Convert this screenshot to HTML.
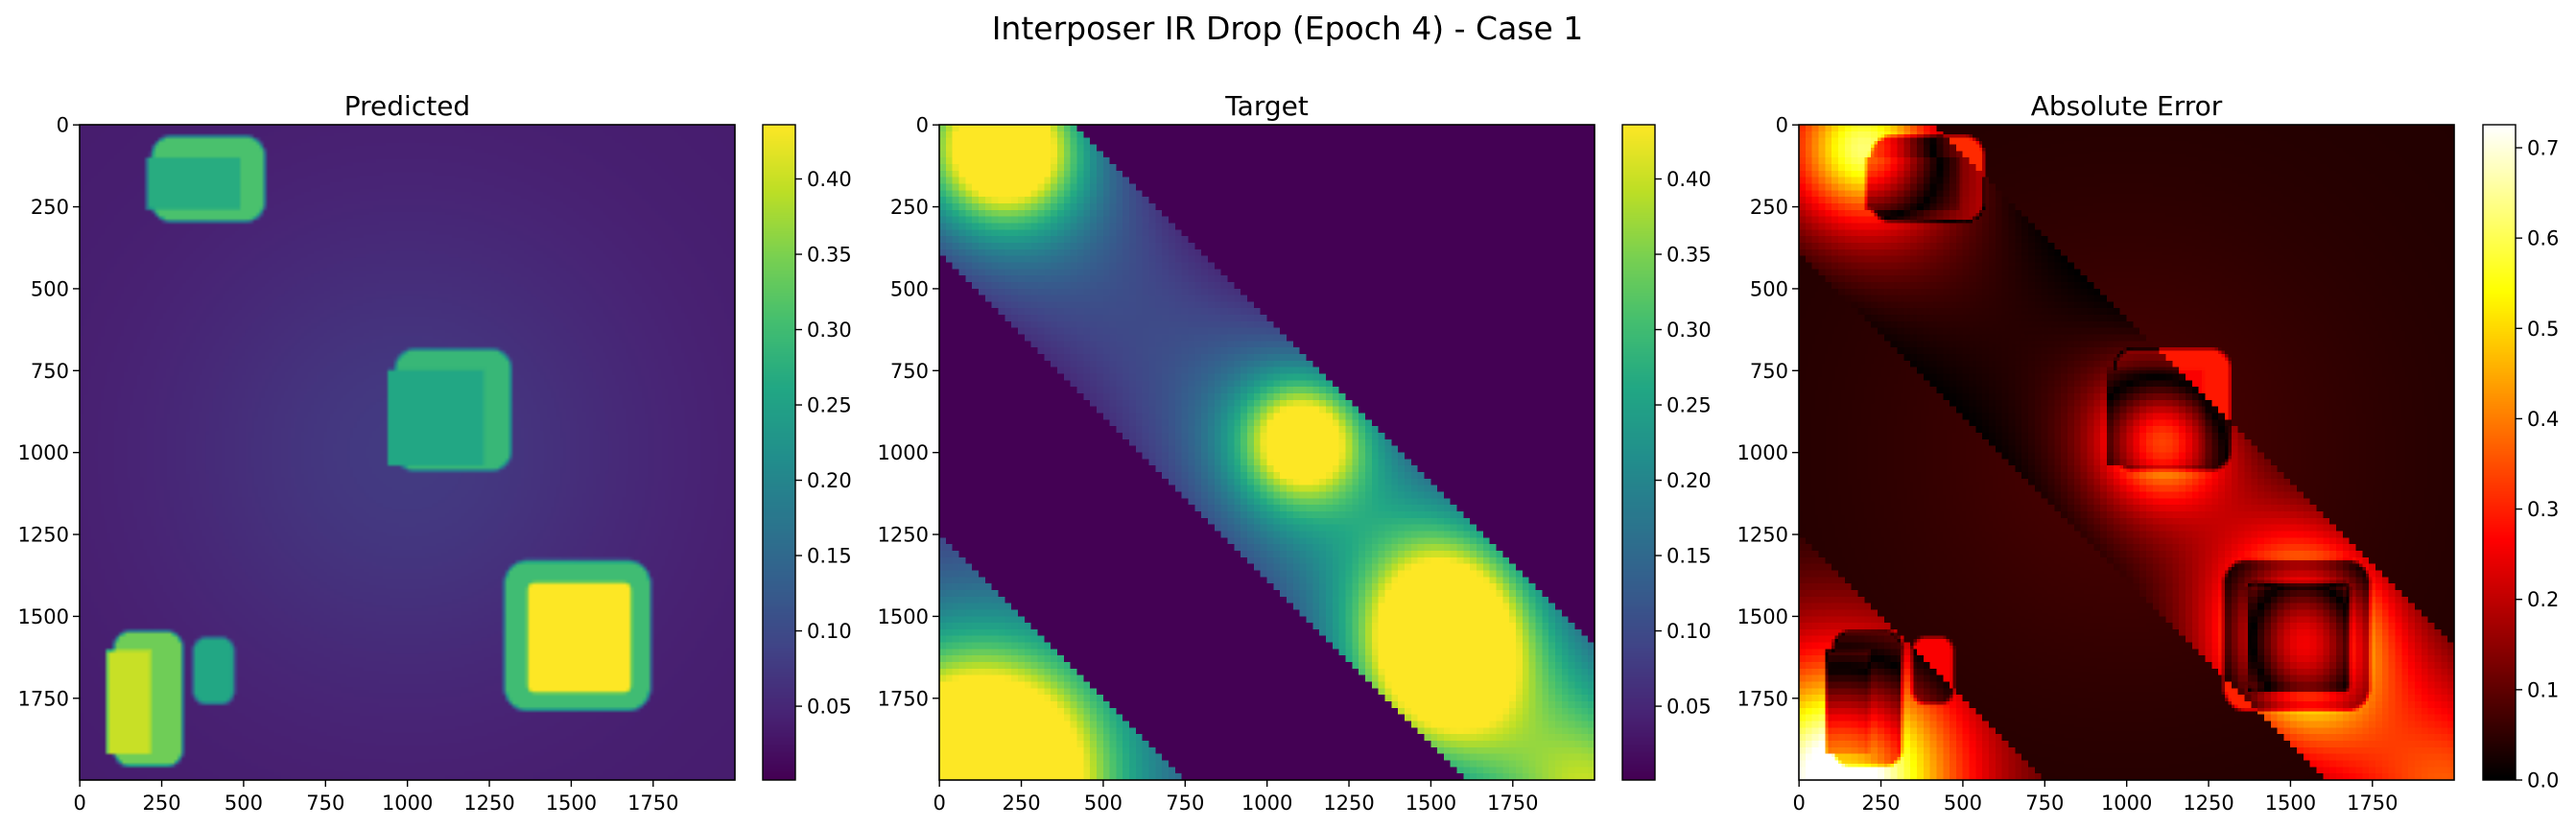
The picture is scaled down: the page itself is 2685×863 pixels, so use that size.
<!DOCTYPE html>
<html><head><meta charset="utf-8"><style>
html,body{margin:0;padding:0;background:#fff;}
#root{position:relative;width:2685px;height:863px;overflow:hidden;font-family:"DejaVu Sans","Liberation Sans",sans-serif;color:#000;}
canvas{position:absolute;image-rendering:pixelated;}
svg{position:absolute;left:0;top:0;}
</style></head><body>
<div id="root">
<canvas id="c0" width="200" height="200" style="left:83px;top:130px;width:683px;height:683px;image-rendering:auto"></canvas>
<canvas id="c1" width="200" height="200" style="left:979px;top:130px;width:683px;height:683px"></canvas>
<canvas id="c2" width="200" height="200" style="left:1875px;top:130px;width:683px;height:683px"></canvas>
<canvas id="cb0" width="1" height="256" style="left:795px;top:130px;width:34px;height:683px;image-rendering:auto"></canvas>
<canvas id="cb1" width="1" height="256" style="left:1691px;top:130px;width:34px;height:683px;image-rendering:auto"></canvas>
<canvas id="cb2" width="1" height="256" style="left:2588px;top:130px;width:34px;height:683px;image-rendering:auto"></canvas>
<svg id="ax" width="2685" height="863">
<text x="1342" y="41" font-size="33" text-anchor="middle">Interposer IR Drop (Epoch 4) - Case 1</text>
</svg>
</div>
<script>
// ---- data ----
const ticks = [0, 250, 500, 750, 1000, 1250, 1500, 1750];
const viridisTicks = [0.05, 0.10, 0.15, 0.20, 0.25, 0.30, 0.35, 0.40];
const errorTicks = [0.0, 0.1, 0.2, 0.3, 0.4, 0.5, 0.6, 0.7];
const vRange = [0.001, 0.436];
const eRange = [0.0, 0.7255];
// target hotspots (data units)
const tBlobX = [200, 1110, 1540, 130, 2000];
const tBlobY = [70, 965, 1580, 1990, 2050];
const tBlobSx = [300, 255, 320, 480, 450];
const tBlobSy = [300, 255, 390, 480, 450];
const tBlobPeak = [0.6, 0.5, 0.7, 0.82, 0.3];
const bandMain = [-410, 385];
const bandSecond = 1250;
// predicted layers (rounded rects)
const pX0 = [220, 205, 963, 940, 1297, 1370, 105, 83, 347];
const pX1 = [565, 488, 1317, 1234, 1742, 1680, 314, 216, 471];
const pY0 = [35, 99, 685, 747, 1330, 1400, 1546, 1604, 1565];
const pY1 = [295, 257, 1055, 1039, 1788, 1730, 1958, 1918, 1768];
const pVal = [0.31, 0.27, 0.29, 0.26, 0.30, 0.55, 0.34, 0.40, 0.26];
const pRad = [60, 0, 60, 0, 70, 20, 50, 0, 40];

const L=[83,979,1875], T=130, S=683;
const vir=["#440154","#482475","#414487","#355f8d","#2a788e","#21918c","#22a884","#44bf70","#7ad151","#bddf26","#fde725"].map(h=>[parseInt(h.slice(1,3),16),parseInt(h.slice(3,5),16),parseInt(h.slice(5,7),16)]);
function viridis(t){t=Math.max(0,Math.min(1,t));const f=t*10,i=Math.min(9,Math.floor(f)),r=f-i;return vir[i].map((c,k)=>c+(vir[i+1][k]-c)*r);}
function hot(t){t=Math.max(0,Math.min(1,t));const c=x=>Math.max(0,Math.min(1,x))*255;return [c(t/0.365),c((t-0.365)/0.381),c((t-0.746)/0.254)];}
function target(x,y){
  x=Math.floor(x/20)*20+10; y=Math.floor(y/20)*20+10;
  const u=y-x;
  let inMain=u>bandMain[0]&&u<bandMain[1], inSec=u>bandSecond;
  if(!inMain&&!inSec) return 0;
  let v=inMain?0.02+0.04*(1-Math.pow((u-(bandMain[0]+bandMain[1])/2)/((bandMain[1]-bandMain[0])/2),2)):0.02;
  for(let i=0;i<tBlobX.length;i++){
    const dx=(x-tBlobX[i])/tBlobSx[i], dy=(y-tBlobY[i])/tBlobSy[i];
    const q=1+dx*dx+dy*dy;
    v+=tBlobPeak[i]/(q*q);
  }
  return v;
}
function pred(x,y){
  const d=Math.hypot(x-1000,y-1000);
  let v=0.035+0.04*Math.exp(-(d/700)*(d/700));
  for(let i=0;i<pX0.length;i++){
    const cx=(pX0[i]+pX1[i])/2, cy=(pY0[i]+pY1[i])/2, hx=(pX1[i]-pX0[i])/2-pRad[i], hy=(pY1[i]-pY0[i])/2-pRad[i];
    const qx=Math.abs(x-cx)-hx, qy=Math.abs(y-cy)-hy;
    const sd=Math.hypot(Math.max(qx,0),Math.max(qy,0))+Math.min(Math.max(qx,qy),0)-pRad[i];
    const a=Math.max(0,Math.min(1,0.5-sd/(pRad[i]>0?14:6)));
    v=v*(1-a)+pVal[i]*a;
  }
  return v;
}
function draw(id,fn,cmap,rng){
  const c=document.getElementById(id),ctx=c.getContext('2d'),img=ctx.createImageData(200,200);
  for(let j=0;j<200;j++)for(let i=0;i<200;i++){
    const x=i*10+5,y=j*10+5,col=cmap((fn(x,y)-rng[0])/(rng[1]-rng[0])),k=(j*200+i)*4;
    img.data[k]=col[0];img.data[k+1]=col[1];img.data[k+2]=col[2];img.data[k+3]=255;
  }
  ctx.putImageData(img,0,0);
}
draw('c0',pred,viridis,vRange);
draw('c1',target,viridis,vRange);
draw('c2',(x,y)=>Math.abs(pred(x,y)-target(x,y)),hot,eRange);
function cbar(id,cmap){const c=document.getElementById(id),ctx=c.getContext('2d');for(let j=0;j<256;j++){const col=cmap(1-j/255);ctx.fillStyle=`rgb(${col[0]|0},${col[1]|0},${col[2]|0})`;ctx.fillRect(0,j,1,1);}}
cbar('cb0',viridis);cbar('cb1',viridis);cbar('cb2',hot);

const svg=document.getElementById('ax'),NS='http://www.w3.org/2000/svg';
function el(tag,attrs,txt){const e=document.createElementNS(NS,tag);for(const k in attrs)e.setAttribute(k,attrs[k]);if(txt!==undefined)e.textContent=txt;svg.appendChild(e);return e;}
const titles=['Predicted','Target','Absolute Error'];
const xs=v=>(v+0.5)/2000*S;
for(let p=0;p<3;p++){
  const t=el('text',{x:L[p]+S/2,y:120,'font-size':28,'text-anchor':'middle'},titles[p]);
  
  
  const fr=el('rect',{x:L[p],y:T,width:S,height:S,fill:'none',stroke:'#000','stroke-width':1.6});
  
  
  ticks.forEach(v=>{
    const px=L[p]+xs(v);
    el('line',{x1:px,y1:T+S,x2:px,y2:T+S+7,stroke:'#000','stroke-width':1.4});
    const tx=el('text',{x:px,y:T+S+31,'font-size':21,'text-anchor':'middle'},String(v));
    
    
    const py=T+xs(v);
    el('line',{x1:L[p]-7,y1:py,x2:L[p],y2:py,stroke:'#000','stroke-width':1.4});
    const ty=el('text',{x:L[p]-11,y:py+7.5,'font-size':21,'text-anchor':'end'},String(v));
    
    
  });
  const cl=[795,1691,2588][p];
  const cf=el('rect',{x:cl,y:T,width:34,height:S,fill:'none',stroke:'#000','stroke-width':1.4});
  
  
  const tk=p<2?viridisTicks:errorTicks, rg=p<2?vRange:eRange;
  tk.forEach(v=>{
    const py=T+S-(v-rg[0])/(rg[1]-rg[0])*S;
    el('line',{x1:cl+34,y1:py,x2:cl+41,y2:py,stroke:'#000','stroke-width':1.4});
    const ct=el('text',{x:cl+46,y:py+7.5,'font-size':21},v.toFixed(p<2?2:1));
    
    
  });
}
</script>
</body></html>
